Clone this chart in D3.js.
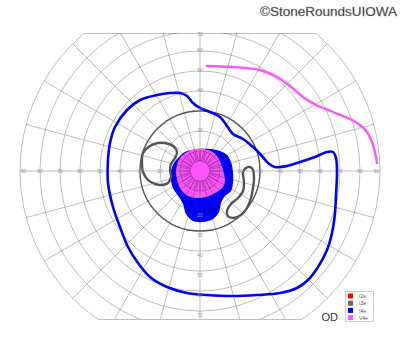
<!DOCTYPE html>
<html><head><meta charset="utf-8">
<script src="https://cdn.jsdelivr.net/npm/d3@7"></script>
<style>html,body{margin:0;padding:0;background:#fff}svg{display:block}</style>
</head><body>
<script>
// Goldmann visual field, right eye (OD). Points are [horizontal deg, vertical deg].
const isopters = ["I2e", "I3e", "I4e", "V4e"];
const isopterColors = ["#ff0000", "#666666", "#0000ff", "#ff55ff"];

// V4e central filled area
const v4eCentral = [[-10,6.5],[-6.5,9.5],[-2.5,11],[1.5,11],[5.5,10],[8.5,7.5],[10.5,3.5],[12,-1.5],[12.5,-5.5],[11,-8.5],[7.5,-11],[3,-13],[-2,-13.5],[-6,-12.5],[-9,-10],[-11,-6],[-12,-1],[-11.5,3]];
// V4e open line, upper temporal
const v4eLine = [[3.5,52.5],[16.5,52],[30,50.5],[38.5,47],[45,42.5],[51.5,37],[58,33],[66.5,29.5],[75,26],[80,23],[83.5,19.5],[86,14.5],[87.5,9.5],[88.5,4]];
// I4e central filled area
const i4eCentral = [[-4,10.5],[0,11],[5,11],[10,10],[13.5,8],[15.5,4.5],[16.5,-0.5],[16.5,-6],[15.5,-10],[12.5,-12.5],[10.5,-16],[9.5,-20.5],[6.5,-24],[1.5,-25.5],[-3.5,-25],[-7,-21.5],[-8.5,-16.5],[-10.5,-13],[-13,-9.5],[-14.5,-5],[-14.5,0],[-13,4],[-10.5,7],[-7.5,9.5]];
// I4e outer isopter
const i4eOuter = [[-46,5.5],[-45,14],[-42.5,22],[-36.5,30.5],[-30,35.5],[-21.5,38],[-15,39],[-10,39],[-6.5,37.5],[-3.5,34],[0,31.5],[5,29.5],[10,27],[13.5,22.5],[16.5,18.5],[21.5,16],[26.5,12],[31,7.5],[34,4],[37.5,2],[43.5,2.5],[50,4.5],[57.5,7],[63.5,9.5],[66.5,9.5],[68,6.5],[68.5,-1],[68,-12],[67.5,-21],[66,-31],[63.5,-39.5],[59,-48],[54,-54.5],[48.5,-58.5],[40,-61],[28.5,-62],[16.5,-62.5],[3.5,-62],[-6.5,-61],[-16.5,-58],[-25,-53],[-31,-46],[-36,-38],[-40,-28],[-43.5,-18],[-46,-6]];
// I3e islands
const i3eLeft = [[-28.5,9],[-25,12.5],[-21,14],[-17.5,14],[-13.5,12.5],[-11.5,9.5],[-12.5,6.5],[-14.5,3.5],[-15,0.5],[-14.5,-3],[-16,-6],[-19,-7],[-22.5,-6.5],[-26,-4.5],[-28.5,-0.5],[-29,4]];
const i3eRight = [[21.5,-0.5],[23,1.5],[25,2],[26.5,0.5],[27,-3.5],[26.5,-8.5],[25.5,-13.5],[23.5,-18.5],[20.5,-22],[16.5,-23.5],[14,-22.5],[13.5,-20],[15.5,-16.5],[19,-13.5],[21.5,-10],[22,-5.5]];

const ringValues = [10,20,30,40,50,60,70,80,90];
const hLabels = [90,80,70,60,50,40,30,20,10];
const vLabels = [70,60,50,40,30,20,10];
const eyeLabel = "OD";
const credit = "©StoneRoundsUIOWA";

const W = 400, H = 352;
const cx = 200, cy = 171, R = 180;
const clipTop = 33, clipBottom = 319;

const x = d3.scaleLinear().domain([-90, 90]).range([cx - R, cx + R]);
const y = d3.scaleLinear().domain([-90, 90]).range([cy + R, cy - R]);
const r = d3.scaleLinear().domain([0, 90]).range([0, R]);

const svg = d3.select("body").append("svg").attr("width", W).attr("height", H);
svg.append("defs").append("clipPath").attr("id", "fieldClip")
  .append("rect").attr("x", 0).attr("y", clipTop).attr("width", W).attr("height", clipBottom - clipTop);

const field = svg.append("g").attr("clip-path", "url(#fieldClip)");

const closed = d3.line().x(d => x(d[0])).y(d => y(d[1])).curve(d3.curveCatmullRomClosed.alpha(0.5));
const open = d3.line().x(d => x(d[0])).y(d => y(d[1])).curve(d3.curveCatmullRom.alpha(0.5));

// fills
field.append("path").attr("d", closed(i4eCentral)).attr("fill", isopterColors[2]);
field.append("path").attr("d", closed(v4eCentral)).attr("fill", isopterColors[3]);

// grid
const grid = field.append("g").attr("fill", "none").attr("stroke", "#000").attr("stroke-opacity", 0.25).attr("stroke-width", 1);
grid.selectAll("circle.ring").data([5].concat(ringValues.filter(v => v !== 30))).join("circle")
  .attr("cx", x(0)).attr("cy", y(0)).attr("r", d => r(d));
const spokeAngles = d3.range(0, 360, 15);
grid.selectAll("line.spoke").data(spokeAngles).join("line")
  .attr("x1", a => x(0) + r(5) * Math.cos(a * Math.PI / 180))
  .attr("y1", a => y(0) - r(5) * Math.sin(a * Math.PI / 180))
  .attr("x2", a => x(0) + r(90) * Math.cos(a * Math.PI / 180))
  .attr("y2", a => y(0) - r(90) * Math.sin(a * Math.PI / 180));
const fineAngles = d3.range(0, 360, 10);
grid.selectAll("line.fine").data(fineAngles).join("line")
  .attr("x1", a => x(0) + r(5) * Math.cos(a * Math.PI / 180))
  .attr("y1", a => y(0) - r(5) * Math.sin(a * Math.PI / 180))
  .attr("x2", a => x(0) + r(10) * Math.cos(a * Math.PI / 180))
  .attr("y2", a => y(0) - r(10) * Math.sin(a * Math.PI / 180));

// 30 degree ring, darker
field.append("circle").attr("cx", x(0)).attr("cy", y(0)).attr("r", r(30))
  .attr("fill", "none").attr("stroke", "#555").attr("stroke-width", 1.4);

// top / bottom border of the chart
[clipTop, clipBottom].forEach(yy => {
  const dy = yy - y(0);
  const dx = Math.sqrt(r(90) * r(90) - dy * dy);
  svg.append("line").attr("x1", x(0) - dx).attr("x2", x(0) + dx).attr("y1", yy + 0.5).attr("y2", yy + 0.5)
    .attr("stroke", "#000").attr("stroke-opacity", 0.25).attr("stroke-width", 1.2);
});

// axis labels
const lab = svg.append("g").attr("font-family", "Liberation Sans, Arial, sans-serif").attr("font-size", 5)
  .attr("fill", "#999").attr("text-anchor", "middle");
hLabels.forEach(v => {
  const off = v === 90 ? 3.5 : 0;
  lab.append("text").attr("x", x(-v) + off).attr("y", y(0) + 1.8).text(v);
  lab.append("text").attr("x", x(v) - off).attr("y", y(0) + 1.8).text(v);
});
vLabels.forEach(v => {
  lab.append("text").attr("x", x(0)).attr("y", y(v) + (v === 70 ? 5 : 1)).text(v);
  lab.append("text").attr("x", x(0)).attr("y", y(-v) + 5.5).text(v);
});

// isopter lines
const lines = field.append("g").attr("fill", "none").attr("stroke-linejoin", "round").attr("stroke-linecap", "round");
lines.append("path").attr("d", closed(i3eLeft)).attr("stroke", "#555").attr("stroke-width", 2.4);
lines.append("path").attr("d", closed(i3eRight)).attr("stroke", "#555").attr("stroke-width", 2.4);
lines.append("path").attr("d", closed(i4eOuter)).attr("stroke", isopterColors[2]).attr("stroke-width", 2.6);
lines.append("path").attr("d", open(v4eLine)).attr("stroke", isopterColors[3]).attr("stroke-width", 2.4);

// legend
const lg = svg.append("g").attr("transform", "translate(345.5,291.5)");
lg.append("rect").attr("width", 28).attr("height", 30).attr("fill", "#fff").attr("stroke", "#ccc").attr("stroke-width", 1);
isopters.forEach((name, i) => {
  lg.append("rect").attr("x", 2.5).attr("y", 2 + i * 7.2).attr("width", 5).attr("height", 5).attr("fill", isopterColors[i]);
  lg.append("text").attr("x", 13.5).attr("y", 6.6 + i * 7.2).attr("font-family", "Liberation Sans, Arial, sans-serif")
    .attr("font-size", 5).attr("fill", "#555").text(name);
});
svg.append("text").attr("x", 321.5).attr("y", 321).attr("font-family", "Liberation Sans, Arial, sans-serif")
  .attr("font-size", 11).attr("fill", "#333").text(eyeLabel);

// credit
svg.append("text").attr("x", 397).attr("y", 15.5).attr("text-anchor", "end")
  .attr("font-family", "Liberation Sans, Arial, sans-serif").attr("font-size", 13.5)
  .attr("fill", "#222").attr("stroke", "#999").attr("stroke-width", 0.3).text(credit);
</script>
</body></html>
